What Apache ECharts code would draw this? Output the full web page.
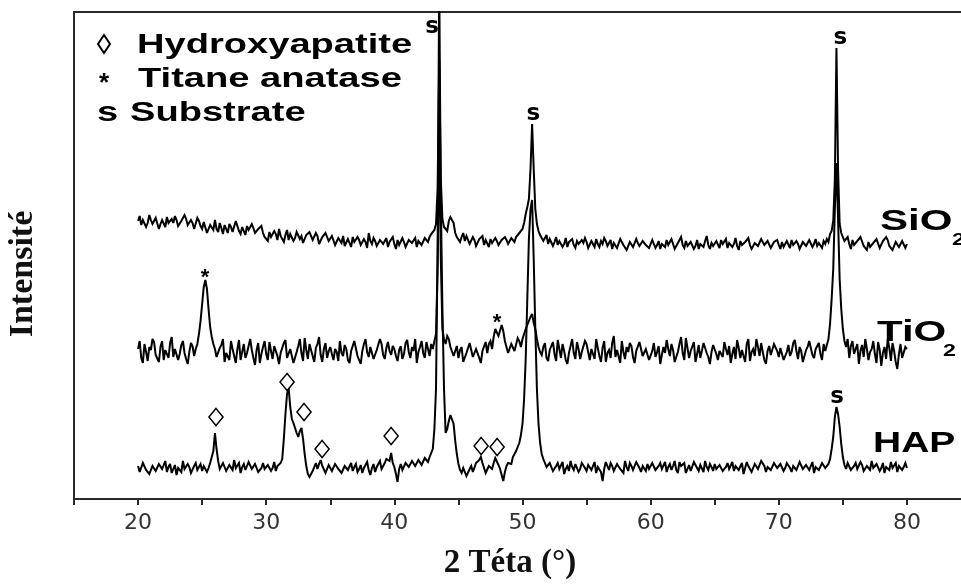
<!DOCTYPE html>
<html>
<head>
<meta charset="utf-8">
<script src="https://cdn.jsdelivr.net/npm/echarts@6/dist/echarts.min.js"></script>
<style>html,body{margin:0;padding:0;background:#fff}#c{width:961px;height:585px}</style>
</head>
<body>
<div id="c"></div>
<script>
// 2θ sampling grid: 20° .. 80°, step 0.125°
const thetaStart = 20, thetaStep = 0.125;
const xTicks = [20, 30, 40, 50, 60, 70, 80];

// Intensities (arbitrary units, offset stacked); one row = 5°
const sio2 = [
278,283,274,279,281,272,276,284,279,275,273,281,280,270,275,279,277,272,282,276,274,280,276,283,279,273,271,278,277,284,280,274,273,279,276,270,272,281,278,273,
270,277,275,266,268,274,273,269,279,270,267,276,271,265,274,270,266,275,272,267,269,278,276,268,265,272,270,264,273,269,267,275,271,266,264,270,269,273,266,262,
263,258,267,262,260,268,265,259,270,263,262,257,264,269,259,265,266,258,261,267,268,260,263,256,258,264,262,267,265,259,260,266,263,255,257,262,261,266,264,258,
258,263,261,254,255,261,260,256,263,253,254,260,258,252,262,257,256,262,259,254,253,260,257,251,266,258,255,261,258,253,254,259,260,255,256,261,252,257,258,262,
255,250,259,254,253,261,257,252,254,259,260,256,255,261,252,258,258,254,256,261,260,257,262,265,266,269,275,310,440,320,280,272,270,268,278,282,284,276,266,262,
263,257,262,266,258,263,261,255,257,262,259,253,255,260,258,263,254,259,257,252,260,256,255,261,258,254,253,259,257,262,259,255,256,261,260,257,262,264,266,268,
270,276,285,292,300,330,375,330,290,275,268,264,262,258,259,264,255,260,260,253,257,262,254,258,258,252,255,261,252,257,257,260,254,251,258,255,253,259,256,261,
257,251,253,258,256,252,260,255,252,258,255,261,258,253,254,259,250,256,256,251,253,260,259,254,255,249,251,257,257,252,254,260,256,253,252,258,258,254,255,251,
253,259,257,251,254,258,250,255,256,252,259,254,253,260,255,250,251,256,257,262,254,251,258,253,252,257,256,250,253,259,250,255,255,252,258,263,254,250,256,253,
252,258,256,251,259,255,254,260,251,256,257,252,255,261,253,249,258,254,252,257,256,261,254,250,250,256,257,253,255,260,259,254,253,258,256,251,252,257,255,259,
254,250,257,252,252,258,256,251,259,254,253,258,255,250,251,257,257,253,254,259,258,252,255,260,253,256,256,251,258,255,260,257,265,268,278,320,451,330,275,266,
264,258,258,262,255,250,259,254,252,258,256,262,260,253,253,249,257,252,250,256,255,260,258,251,252,258,256,262,259,253,254,249,251,257,257,252,253,258,256,251,
255];
const tio2 = [
150,158,141,136,155,147,138,152,149,160,157,144,143,137,152,158,139,149,148,141,156,162,142,150,150,139,145,154,158,146,140,135,147,156,153,143,150,155,165,178,
195,212,219,210,190,172,162,155,150,142,140,151,154,160,137,146,148,139,158,150,143,136,150,159,139,147,155,141,146,153,160,149,141,134,149,156,136,145,152,158,
145,139,157,148,140,153,151,143,135,146,148,156,159,141,142,150,150,136,138,147,153,160,146,138,161,149,140,155,149,143,137,151,155,162,144,137,150,156,141,148,
152,145,139,150,147,138,158,146,143,154,150,139,136,148,149,158,156,143,141,135,148,155,160,147,142,152,151,140,138,149,147,160,155,144,140,151,157,148,144,153,
150,143,138,149,153,140,145,156,159,147,141,152,148,160,136,147,152,158,146,141,157,150,143,155,150,158,165,230,366,240,170,160,155,163,160,152,150,143,145,153,
141,149,152,137,138,146,147,156,155,142,140,150,149,141,136,148,150,157,146,155,158,150,162,170,172,163,165,174,168,158,152,146,145,155,156,148,150,161,158,152,
160,165,170,174,178,182,185,176,170,160,152,147,144,152,156,141,138,149,150,157,145,138,159,150,141,155,148,139,135,146,153,160,146,140,157,150,140,147,149,158,
155,147,139,150,148,140,160,151,143,137,151,158,137,146,149,141,156,163,142,149,150,136,158,147,140,152,147,156,153,142,136,148,149,157,155,143,144,150,151,139,
140,148,156,142,147,153,135,144,152,146,159,150,143,155,149,137,138,147,155,162,146,139,161,151,141,148,150,157,137,145,154,141,148,156,158,146,142,135,147,154,
153,145,139,148,150,142,157,150,144,153,136,145,152,140,159,151,141,149,148,137,155,160,138,147,150,143,160,152,143,156,147,139,135,148,153,144,146,155,157,148,
142,151,150,139,138,147,154,143,147,156,159,148,140,152,148,137,136,149,152,158,157,144,141,150,149,156,145,139,155,148,150,160,175,200,230,290,336,280,220,190,
170,158,152,160,141,153,158,145,146,155,135,148,154,142,160,150,139,147,150,158,145,136,157,149,133,146,152,140,160,151,138,156,148,137,130,145,155,141,143,152,
150];
const hap = [
33,27,28,36,35,29,30,25,26,33,34,28,29,35,37,30,31,38,27,32,35,26,30,34,24,31,33,27,38,30,29,35,32,26,27,33,36,29,30,35,
28,33,34,27,31,36,37,48,66,50,38,30,29,36,35,28,27,34,33,29,39,31,30,36,26,32,35,29,31,37,38,30,28,35,33,27,25,31,36,30,
29,34,35,28,31,37,28,33,34,36,40,60,85,105,111,92,80,76,74,66,62,68,71,60,45,33,25,22,21,28,32,36,30,35,39,33,31,26,27,34,
33,28,29,35,36,30,30,26,27,33,34,29,31,36,28,32,35,27,30,34,26,31,33,37,29,24,31,35,27,32,34,38,30,33,36,40,41,38,46,36,
32,25,17,30,35,29,30,36,36,32,31,38,37,33,33,39,38,34,35,41,40,37,42,46,50,70,110,250,520,300,190,110,66,70,78,84,86,75,58,45,
35,29,26,31,30,23,24,30,33,27,29,36,35,39,42,36,31,26,27,33,34,30,36,41,40,34,30,24,18,27,33,36,38,35,42,45,48,52,56,64,
75,100,140,200,260,290,299,240,170,110,75,56,45,40,36,32,30,36,34,28,27,33,36,30,31,37,25,30,33,28,38,32,29,35,34,27,30,36,37,31,
28,34,35,29,31,37,26,32,34,27,18,30,37,33,29,36,33,28,27,35,35,30,31,26,38,32,28,36,33,29,30,37,36,31,27,33,32,28,35,30,
30,36,34,29,28,33,36,30,31,37,27,32,35,29,33,38,29,26,37,33,31,36,26,30,34,28,30,37,36,31,28,34,33,27,38,32,29,35,32,28,
35,30,29,34,33,28,27,32,36,30,31,37,28,33,34,29,30,36,25,31,37,33,32,27,29,35,35,30,31,38,38,33,27,32,33,29,30,36,36,31,
29,35,34,28,31,36,38,31,27,33,33,29,30,37,36,30,28,34,35,29,31,37,26,32,34,29,30,36,37,31,32,35,40,50,62,82,92,85,72,55,
42,34,30,36,35,29,28,33,36,30,31,37,34,28,27,33,33,29,38,31,29,35,35,28,31,36,26,32,34,29,37,31,30,36,27,33,35,29,32,36,
31];

// Peak annotations (2θ, intensity)
const hapPeakX = [26.08, 31.63, 32.95, 34.36, 39.75, 46.77, 48.02];
const hapPeakY = [82, 117, 87, 50, 63, 53, 52];
const anataseX = [25.23, 48.02];
const anataseY = [221, 176];
const substrateX = [42.95, 50.85, 74.8, 74.56];
const substrateY = [472, 385, 461, 102];

function pairs(ys) { return ys.map((v, i) => [thetaStart + i * thetaStep, v]); }
function zip(xs, ys) { return xs.map((x, i) => [x, ys[i]]); }

const chart = echarts.init(document.getElementById('c'), null, {renderer: 'canvas'});
const lineStyle = {color: '#000', width: 2, join: 'miter', miterLimit: 3};
const textFill = '#000';
const sansB = '"Liberation Sans", Arial, sans-serif';
const serifB = '"Liberation Serif", "Times New Roman", serif';

chart.setOption({
  animation: false,
  backgroundColor: '#fff',
  grid: {left: 74, top: 12, width: 897, height: 487, outerBoundsMode: 'none', containLabel: false,
    show: true, borderColor: '#2a2a2a', borderWidth: 2, backgroundColor: 'transparent'},
  xAxis: {
    type: 'value', min: 15, max: 85, interval: 5,
    axisLine: {show: true, lineStyle: {color: '#2a2a2a', width: 2}},
    axisTick: {show: true, length: 6, lineStyle: {color: '#2a2a2a', width: 2}},
    axisLabel: {
      color: '#333', fontFamily: '"DejaVu Sans", sans-serif', fontSize: 22, margin: 13,
      formatter: v => xTicks.includes(v) ? String(v) : ''
    },
    splitLine: {show: false}
  },
  yAxis: {
    type: 'value', min: 0, max: 487,
    axisLine: {show: false}, axisTick: {show: false}, axisLabel: {show: false}, splitLine: {show: false}
  },
  series: [
    {name: 'SiO2', type: 'line', data: pairs(sio2), showSymbol: false, lineStyle: lineStyle, clip: true, z: 2},
    {name: 'TiO2', type: 'line', data: pairs(tio2), showSymbol: false, lineStyle: lineStyle, clip: true, z: 2},
    {name: 'HAP', type: 'line', data: pairs(hap), showSymbol: false, lineStyle: lineStyle, clip: true, z: 2},
    {name: 'Hydroxyapatite', type: 'scatter', data: zip(hapPeakX, hapPeakY), symbol: 'diamond', symbolSize: [14, 17],
      itemStyle: {color: '#fff', borderColor: '#000', borderWidth: 1.6, opacity: 1}, z: 5},
    {name: 'Titane anatase', type: 'scatter', data: zip(anataseX, anataseY), symbolSize: 1,
      itemStyle: {color: 'rgba(0,0,0,0)', opacity: 1}, z: 5,
      label: {show: true, position: 'inside', formatter: '*', color: textFill, textBorderWidth: 0,
        fontFamily: sansB, fontWeight: 'bold', fontSize: 22}},
    {name: 'Substrate', type: 'scatter', data: zip(substrateX, substrateY), symbolSize: 1,
      itemStyle: {color: 'rgba(0,0,0,0)', opacity: 1}, z: 5,
      label: {show: true, position: 'inside', formatter: 's', color: textFill, textBorderWidth: 0,
        fontFamily: '"DejaVu Sans", sans-serif', fontWeight: 'bold', fontSize: 23}}
  ],
  graphic: [
    // axis titles
    {type: 'text', x: 510, y: 563, style: {text: '2 Téta (°)', font: 'bold 33px ' + serifB, fill: '#111', textAlign: 'center', textVerticalAlign: 'middle'}},
    {type: 'text', x: 23, y: 274, rotation: Math.PI / 2, style: {text: 'Intensité', font: 'bold 34px ' + serifB, fill: '#111', textAlign: 'center', textVerticalAlign: 'middle'}},
    // legend box
    {type: 'polygon', shape: {points: [[104, 35], [110, 44], [104, 53], [98, 44]]}, style: {fill: '#fff', stroke: '#000', lineWidth: 2}},
    {type: 'text', x: 137, y: 45, scaleX: 1.36, style: {text: 'Hydroxyapatite', font: 'bold 28px ' + sansB, fill: '#000', textVerticalAlign: 'middle'}},
    {type: 'text', x: 104, y: 84, style: {text: '*', font: 'bold 26px ' + sansB, fill: '#000', textAlign: 'center', textVerticalAlign: 'middle'}},
    {type: 'text', x: 138, y: 79, scaleX: 1.36, style: {text: 'Titane anatase', font: 'bold 28px ' + sansB, fill: '#000', textVerticalAlign: 'middle'}},
    {type: 'text', x: 97, y: 113, scaleX: 1.36, style: {text: 's', font: 'bold 28px ' + sansB, fill: '#000', textVerticalAlign: 'middle'}},
    {type: 'text', x: 130, y: 113, scaleX: 1.36, style: {text: 'Substrate', font: 'bold 28px ' + sansB, fill: '#000', textVerticalAlign: 'middle'}},
    // sample labels
    {type: 'text', x: 880, y: 222, scaleX: 1.4, style: {text: 'SiO', font: 'bold 30px ' + sansB, fill: '#000', textVerticalAlign: 'middle'}},
    {type: 'text', x: 952, y: 240, scaleX: 1.36, style: {text: '2', font: 'bold 17px ' + sansB, fill: '#000', textVerticalAlign: 'middle'}},
    {type: 'text', x: 877, y: 333, scaleX: 1.4, style: {text: 'TiO', font: 'bold 30px ' + sansB, fill: '#000', textVerticalAlign: 'middle'}},
    {type: 'text', x: 943, y: 351, scaleX: 1.36, style: {text: '2', font: 'bold 17px ' + sansB, fill: '#000', textVerticalAlign: 'middle'}},
    {type: 'text', x: 873, y: 444, scaleX: 1.3, style: {text: 'HAP', font: 'bold 30px ' + sansB, fill: '#000', textVerticalAlign: 'middle'}}
  ]
});
</script>
</body>
</html>
